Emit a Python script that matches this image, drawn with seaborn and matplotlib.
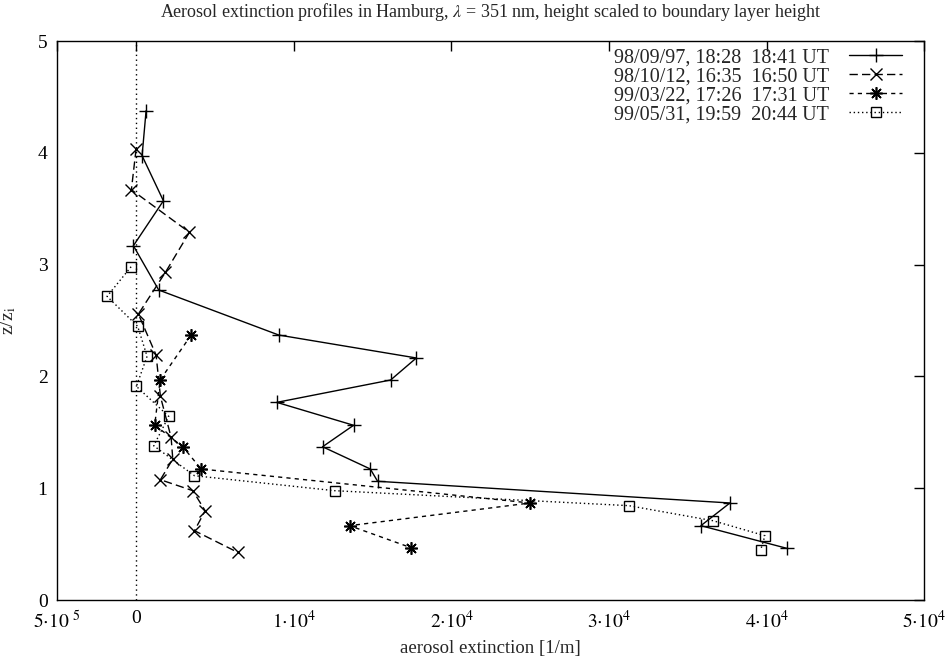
import numpy as np
import pandas as pd
import matplotlib
matplotlib.use("Agg")
import matplotlib.pyplot as plt
import seaborn as sns
from matplotlib.lines import Line2D

# ---- data ----
s1_x = [635, 381, 1733, -171, 1435, 9054, 17778, 16146, 8927, 13797, 11829, 14857, 15321, 37670, 35829, 41289]
s1_y = [4.377, 3.974, 3.571, 3.169, 2.773, 2.370, 2.165, 1.968, 1.768, 1.563, 1.371, 1.172, 1.062, 0.868, 0.665, 0.462]

s2_x = [0, -298, 3384, 1860, 146, 1270, 1543, 2222, 2328, 1543, 3598, 4381, 3704, 6455]
s2_y = [4.034, 3.670, 3.289, 2.931, 2.558, 2.191, 1.822, 1.455, 1.261, 1.076, 0.978, 0.799, 0.620, 0.426]

s3_x = [3492, 1524, 1183, 2963, 4127, 25000, 13545, 17438]
s3_y = [2.370, 1.968, 1.565, 1.371, 1.172, 0.868, 0.665, 0.468]

s4_x = [-317, -1841, 102, 698, 19, 2070, 1117, 3702, 12590, 31250, 36610, 39890, 39620]
s4_y = [2.981, 2.716, 2.448, 2.180, 1.911, 1.643, 1.380, 1.112, 0.978, 0.844, 0.709, 0.575, 0.447]

labels = ["98/09/97, 18:28  18:41 UT",
          "98/10/12, 16:35  16:50 UT",
          "99/03/22, 17:26  17:31 UT",
          "99/05/31, 19:59  20:44 UT"]

xticks = [-5000, 0, 10000, 20000, 30000, 40000, 50000]
xticklabels = [r"$5{\cdot}10\ {}^{5}$", "0", r"$1{\cdot}10^{4}$", r"$2{\cdot}10^{4}$",
               r"$3{\cdot}10^{4}$", r"$4{\cdot}10^{4}$", r"$5{\cdot}10^{4}$"]
yticks = [0, 1, 2, 3, 4, 5]

title = r"Aerosol extinction profiles in Hamburg, $\lambda$ = 351 nm, height scaled to boundary layer height"

# ---- style ----
sns.set_theme(style="white")
plt.rcParams["font.family"] = ["Liberation Serif", "DejaVu Serif"]
plt.rcParams["mathtext.fontset"] = "stix"
plt.rcParams["axes.edgecolor"] = "black"
plt.rcParams["axes.linewidth"] = 1.0

fig = plt.figure(figsize=(9.48, 6.63), dpi=100)
ax = fig.add_axes([0.0604, 0.0950, 0.9146, 0.8431])

styles = [
    dict(marker="+", linestyle="-", markersize=10, mew=1.0),
    dict(marker="x", linestyle=(0, (6, 3)), markersize=8, mew=1.0),
    dict(marker=(8, 2, 0), linestyle=(0, (3, 3)), markersize=9, mew=1.2),
    dict(marker="s", linestyle=(0, (1, 2)), markersize=7.5, mew=1.0, markerfacecolor="none"),
]
series = [(s1_x, s1_y), (s2_x, s2_y), (s3_x, s3_y), (s4_x, s4_y)]

handles = []
for (xs, ys), st, lab in zip(series, styles, labels):
    df = pd.DataFrame({"x": xs, "y": ys})
    sns.lineplot(data=df, x="x", y="y", sort=False, estimator=None, ax=ax,
                 color="black", lw=1.0, markeredgecolor="black", **st)
    handles.append(Line2D([], [], color="black", lw=1.0, markeredgecolor="black", **st))

ax.axvline(0, color="black", lw=1.0, linestyle=(0, (1, 2.5)), zorder=0)

ax.set_xlim(-5000, 50000)
ax.set_ylim(0, 5)
ax.set_xticks(xticks)
ax.set_xticklabels(xticklabels)
ax.set_yticks(yticks)
ax.tick_params(direction="in", length=7, width=1.0, top=True, right=True,
               labelsize=14, colors="black", pad=7)
for s in ax.spines.values():
    s.set_visible(True)
    s.set_color("black")

ax.set_xlabel("aerosol extinction [1/m]", fontsize=13.5, labelpad=6)
ax.set_ylabel(r"z/z$_{\mathrm{i}}$", fontsize=14, labelpad=14)
ax.set_title(title, fontsize=13, pad=17)

ax.legend(handles, labels, loc="upper right", frameon=False, markerfirst=False,
          fontsize=14.5, handlelength=2.6, labelspacing=0.0, borderaxespad=0.0,
          borderpad=0.0, handletextpad=1.0, bbox_to_anchor=(0.974, 0.9875))

fig.savefig("out.png", dpi=100)
